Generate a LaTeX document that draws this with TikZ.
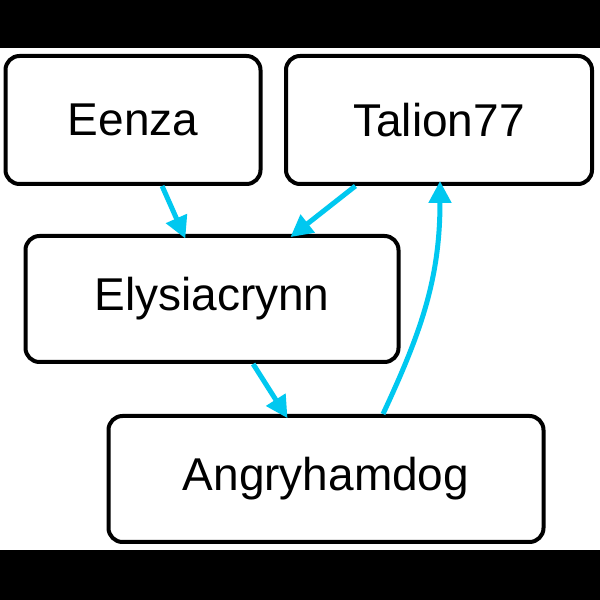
\documentclass[tikz,border=0pt]{standalone}
\usepackage{fontspec}
\setmainfont{Liberation Sans}
\usetikzlibrary{positioning,arrows.meta}
\definecolor{linkcyan}{RGB}{0,200,240}
\tikzset{
  user/.style={draw=black,line width=4pt,rounded corners=14pt,fill=white,
    font=\fontsize{46}{54}\selectfont,inner sep=0pt},
  link/.style={draw=linkcyan,line width=5pt,shorten >=-5pt,
    -{Triangle[length=22pt,width=22pt]}}
}
\begin{document}
\begin{tikzpicture}[x=1pt,y=1pt]
	\useasboundingbox (0,0) rectangle (600,600);
	\fill[white] (0,0) rectangle (600,600);
	\fill[black] (0,552) rectangle (600,600);
	\fill[black] (0,0) rectangle (600,50);
	\node[user,minimum width=255pt,minimum height=128pt] (eenza) at (133,480) {Eenza};
	\node[user,minimum width=306pt,minimum height=128pt] (talion) at (439,480) {Talion77};
	\node[user,minimum width=373pt,minimum height=126pt] (ely) at (212,301) {Elysiacrynn};
	\node[user,minimum width=435pt,minimum height=126pt] (angry) at (326,121) {Angryhamdog};
	\path[link] (eenza) -- (ely);
	\path[link] (talion) -- (ely);
	\path[link] (ely) -- (angry);
	\path[link] ([xshift=57pt]angry.north) to[out=65,in=-90] ([xshift=1pt]talion.south);
\end{tikzpicture}
\end{document}
